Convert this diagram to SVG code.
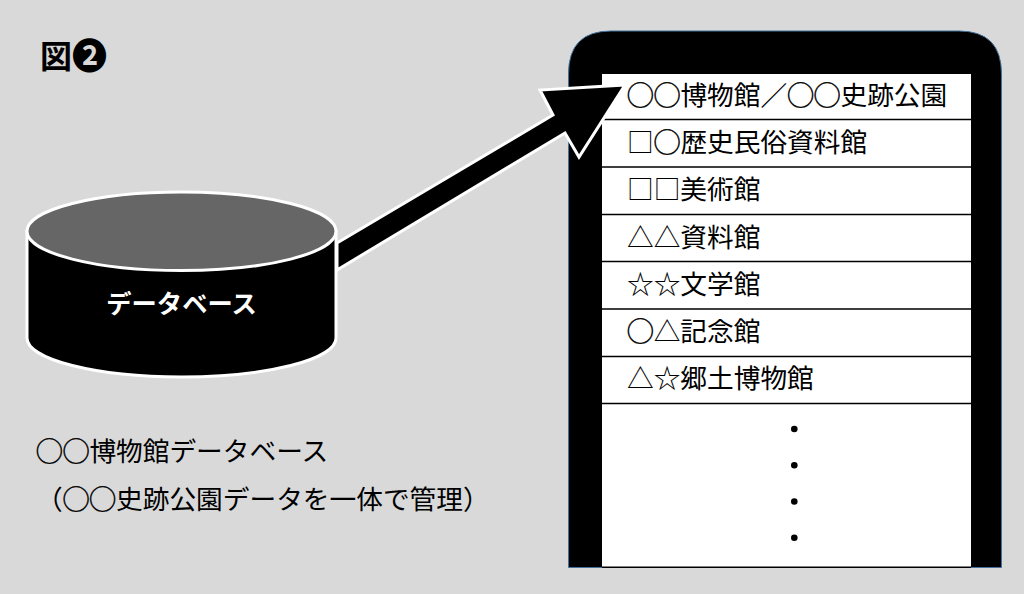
<svg xmlns="http://www.w3.org/2000/svg" width="1024" height="594" viewBox="0 0 1024 594">
<style>
.t{font-family:"Noto Sans CJK JP","Noto Sans",sans-serif;font-size:26.7px;fill:#000}
.c{stroke:#000;stroke-width:.5}
.rule{stroke:#000;stroke-width:1.5}
.dot{fill:#000}
</style>
<rect width="1024" height="594" fill="#d9d9d9"/>
<g id="title"><text x="40" y="68" style="font-family:'Noto Sans CJK JP','Noto Sans',sans-serif;font-size:32px;font-weight:700">図<tspan font-size="35" dy="1">❷</tspan></text></g>
<g id="phone">
<path d="M568.5 567.5V74Q568.5 31 611 31H959Q1001.5 31 1001.5 74V567.5Z" fill="#000" stroke="#41719c" stroke-width="1"/>
<rect x="602" y="74" width="369" height="493" fill="#fff"/>
<path d="M602 567.2H971" class="rule"/>
</g>
<g id="list">
<path class="rule" d="M602 119.5H971M602 167H971M602 214.5H971M602 261.5H971M602 309H971M602 356.5H971M602 403.5H971"/>
<text class="t" x="627" y="105"><tspan class="c">◯◯</tspan>博物館／<tspan class="c">◯◯</tspan>史跡公園</text>
<text class="t" x="627" y="152">□<tspan class="c">◯</tspan>歴史民俗資料館</text>
<text class="t" x="627" y="199">□□美術館</text>
<text class="t" x="627" y="247">△△資料館</text>
<text class="t" x="627" y="294">☆☆文学館</text>
<text class="t" x="627" y="341"><tspan class="c">◯</tspan>△記念館</text>
<text class="t" x="627" y="388">△☆郷土博物館</text>
<circle class="dot" cx="794.3" cy="429" r="3.3"/>
<circle class="dot" cx="794.3" cy="465.3" r="3.3"/>
<circle class="dot" cx="794.3" cy="501.5" r="3.3"/>
<circle class="dot" cx="794.3" cy="537.8" r="3.3"/>
</g>
<g id="connectors">
<path d="M337 243L553 115L540 90L625 85L579 157L565 133L337 270Z" fill="#000" stroke="#fff" stroke-width="3"/>
</g>
<g id="database">
<path d="M27 231V338A154.500 39 0 0 0 336 338V231Z" fill="#000" stroke="#fff" stroke-width="3"/>
<ellipse cx="181.500" cy="231.300" rx="154.500" ry="39.300" fill="#666" stroke="#fff" stroke-width="3"/>
<text x="181.500" y="313" text-anchor="middle" style="font-family:'Noto Sans CJK JP','Noto Sans',sans-serif;font-size:25.3px;font-weight:700;fill:#fff">データベース</text>
</g>
<g id="caption">
<text class="t" x="36" y="461"><tspan class="c">◯◯</tspan>博物館データベース</text>
<text class="t" x="36" y="509">（<tspan class="c">◯◯</tspan>史跡公園データを一体で管理）</text>
</g>
</svg>
